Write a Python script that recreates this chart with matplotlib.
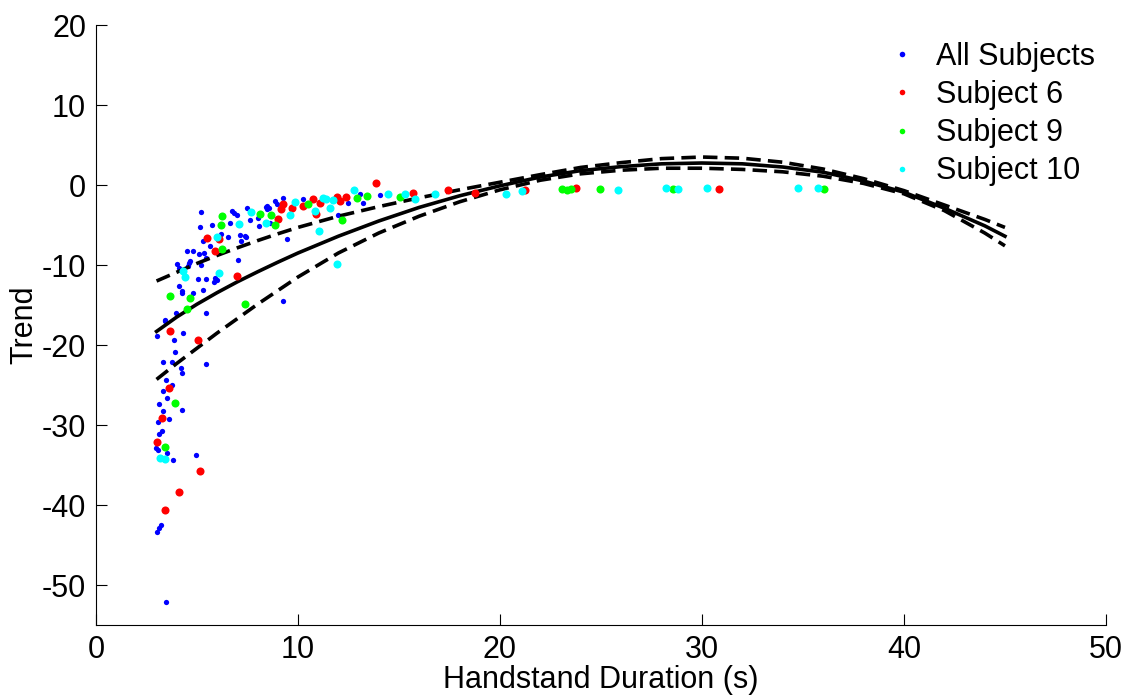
import matplotlib.pyplot as plt
from matplotlib.lines import Line2D

plt.rcParams['font.family'] = ['Liberation Sans', 'DejaVu Sans']
plt.rcParams['axes.unicode_minus'] = False

# all subjects (blue dots)
all_x = [3.47, 3.02, 3.12, 3.22, 4.95, 3.81, 3.51, 3.07, 2.95, 3.12, 3.27, 3.07, 3.61, 3.32,
         4.26, 3.12, 3.51, 3.32, 3.76, 3.47, 4.26, 4.21, 5.45, 3.76, 3.32, 3.91, 4.31, 3.86,
         3.02, 3.42, 3.96, 5.45, 9.26, 4.26, 4.80, 5.30, 4.11, 5.05, 5.45, 5.89, 5.99, 5.84,
         4.01, 4.11, 4.65, 4.55, 7.03, 4.50, 4.80, 5.10, 5.35, 5.45, 5.64, 5.30, 7.18, 7.13,
         7.43, 6.53, 6.19, 5.15, 5.74, 6.63, 7.62, 8.07, 5.20, 6.83, 6.98, 7.48, 8.42, 8.56,
         8.96, 9.26, 9.46, 10.25, 8.86, 8.47, 11.98, 12.48, 13.07, 13.22, 14.06, 8.02, 6.73,
         7.38, 4.60, 8.60, 8.47, 4.26, 3.40, 5.20]
all_y = [-52.1, -43.4, -42.9, -42.5, -33.75, -34.4, -33.5, -33.1, -32.9, -31.1, -30.75, -29.6,
         -29.25, -28.25, -28.1, -27.4, -26.6, -25.75, -25.0, -24.4, -23.5, -22.9, -22.4, -22.1,
         -22.1, -20.9, -18.5, -19.4, -18.9, -16.9, -16.0, -16.0, -14.5, -13.5, -13.5, -13.1,
         -12.6, -11.75, -11.75, -11.6, -11.9, -12.1, -9.9, -10.4, -9.5, -10.1, -9.4, -8.25,
         -8.25, -8.6, -8.5, -9.1, -7.6, -7.0, -7.0, -6.25, -6.5, -6.5, -6.1, -5.25, -5.0,
         -4.75, -4.4, -5.1, -3.4, -3.5, -3.75, -2.9, -2.75, -2.9, -2.4, -1.6, -6.75, -1.75,
         -2.0, -3.0, -3.75, -2.25, -1.1, -2.25, -1.25, -4.1, -3.25, -6.4, -9.75, -4.75, -2.6,
         -13.25, -17.0, -10.0]

s6_x = [5.15, 4.11, 3.42, 3.02, 3.27, 3.61, 3.66, 5.05, 6.98, 5.89, 5.50, 6.09, 9.01, 9.16,
        9.26, 9.70, 10.25, 10.74, 11.09, 10.89, 11.93, 12.38, 12.08, 13.86, 15.69, 17.43,
        18.76, 21.24, 23.76, 30.84]
s6_y = [-35.75, -38.4, -40.6, -32.1, -29.1, -25.4, -18.25, -19.4, -11.4, -8.25, -6.6, -6.75,
        -4.25, -3.0, -2.4, -2.9, -2.6, -1.75, -2.25, -3.6, -1.5, -1.5, -2.0, 0.25, -1.0,
        -0.6, -1.0, -0.6, -0.4, -0.5]

s9_x = [3.42, 3.91, 3.66, 4.65, 4.50, 7.38, 6.24, 6.19, 6.24, 8.12, 8.66, 8.86, 10.50,
        12.18, 12.92, 13.42, 15.05, 23.07, 23.32, 23.51, 24.95, 28.56, 36.04]
s9_y = [-32.75, -27.25, -13.9, -14.1, -15.5, -14.9, -8.0, -5.0, -3.9, -3.6, -3.75, -5.0,
        -2.4, -4.4, -1.6, -1.4, -1.5, -0.5, -0.6, -0.5, -0.5, -0.5, -0.5]

s10_x = [3.17, 3.42, 4.41, 4.31, 6.09, 5.99, 7.08, 7.67, 8.42, 9.60, 9.85, 10.84, 11.04,
         11.24, 11.39, 11.73, 11.58, 11.93, 12.77, 14.46, 15.30, 15.79, 16.78, 20.30, 21.09,
         25.84, 28.22, 28.81, 30.25, 34.75, 35.74]
s10_y = [-34.1, -34.25, -11.5, -10.75, -11.0, -6.5, -4.9, -3.4, -4.75, -3.75, -2.1, -3.25,
         -5.75, -1.6, -1.75, -1.9, -2.9, -9.9, -0.6, -1.1, -1.1, -1.75, -1.1, -1.1, -0.75,
         -0.6, -0.4, -0.5, -0.4, -0.4, -0.4]

# fitted trend and bounds
fit_x = [3, 4, 5, 6, 7, 8, 9, 10, 12, 14, 16, 18, 20, 22, 24, 26, 28, 30, 32, 34, 36, 38,
         40, 42, 44, 45]
fit_y = [-18.3, -16.5, -14.9, -13.45, -12.1, -10.85, -9.65, -8.5, -6.4, -4.5, -2.8, -1.35,
         -0.1, 1.0, 1.8, 2.3, 2.65, 2.75, 2.65, 2.25, 1.6, 0.5, -0.9, -2.9, -5.1, -6.4]
upper_y = [-12.0, -10.9, -9.8, -8.8, -7.85, -6.95, -6.1, -5.3, -3.9, -2.7, -1.6, -0.6, 0.35,
           1.3, 2.2, 2.8, 3.3, 3.5, 3.35, 2.85, 2.0, 0.8, -0.7, -2.5, -4.3, -5.3]
lower_y = [-24.3, -22.3, -20.4, -18.5, -16.7, -14.9, -13.2, -11.5, -8.5, -6.0, -3.9, -2.1,
           -0.6, 0.6, 1.4, 1.85, 2.1, 2.1, 1.95, 1.65, 1.1, 0.2, -1.1, -3.2, -6.0, -7.6]

fig = plt.figure(figsize=(11.37, 6.95), dpi=100)
ax = fig.add_axes([0.0844, 0.1007, 0.8883, 0.8633])

ax.plot(all_x, all_y, 'o', color='#0000ff', markersize=3.8, markeredgewidth=0, zorder=2)
ax.plot(fit_x, fit_y, '-', color='black', lw=2.6, zorder=3)
ax.plot(fit_x, upper_y, '--', color='black', lw=2.6, dashes=(4, 2), zorder=3)
ax.plot(fit_x, lower_y, '--', color='black', lw=2.6, dashes=(4, 2), zorder=3)
ax.plot(s6_x, s6_y, 'o', color='#ff0000', markersize=5.8, markeredgewidth=0, zorder=4)
ax.plot(s9_x, s9_y, 'o', color='#00ff00', markersize=5.8, markeredgewidth=0, zorder=4)
ax.plot(s10_x, s10_y, 'o', color='#00ffff', markersize=5.8, markeredgewidth=0, zorder=4)

ax.set_xlim(0, 50)
ax.set_ylim(-55, 20)
ax.set_xticks(range(0, 51, 10))
ax.set_yticks(range(-50, 21, 10))
ax.spines['top'].set_visible(False)
ax.spines['right'].set_visible(False)
ax.tick_params(direction='in', length=8, labelsize=22, pad=7)
ax.set_xlabel("Handstand Duration (s)", fontsize=22, labelpad=0)
ax.set_ylabel("Trend", fontsize=22, labelpad=2)

handles = [Line2D([], [], ls='', marker='o', markersize=4, markeredgewidth=0, color=c)
           for c in ['#0000ff', '#ff0000', '#00ff00', '#00ffff']]
ax.legend(handles, ["All Subjects", "Subject 6", "Subject 9", "Subject 10"],
          loc='upper right', bbox_to_anchor=(1.016, 1.018), frameon=False, fontsize=22,
          handlelength=1.0, handletextpad=0.6, labelspacing=0.27)

plt.savefig("out.png")
